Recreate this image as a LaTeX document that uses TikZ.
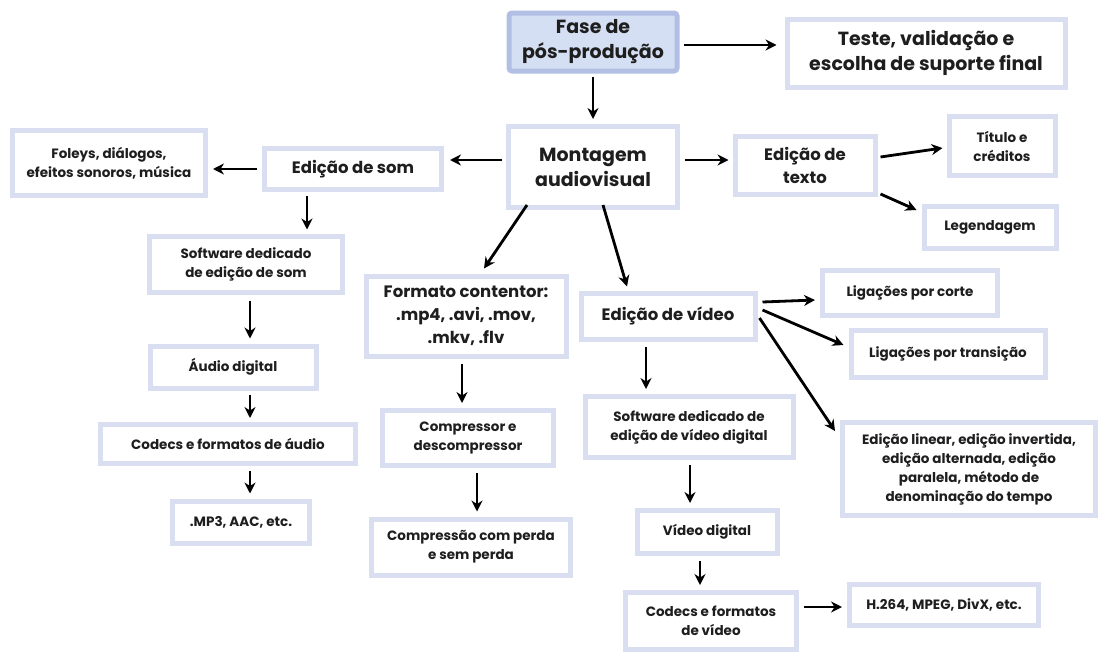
\documentclass[tikz,border=0pt]{standalone}
\usepackage{fontspec}
\setmainfont{Poppins}
\usetikzlibrary{arrows.meta,calc}
\definecolor{boxc}{RGB}{217,222,240}
\definecolor{topfill}{RGB}{213,223,243}
\definecolor{topline}{RGB}{178,190,228}
\definecolor{txt}{RGB}{30,30,30}
\tikzset{
  box/.style={draw=boxc, line width=5pt, fill=white, align=center, text=txt, inner sep=0pt,
    font=\bfseries\fontsize{13.5}{19}\selectfont},
  bigtext/.style={font=\bfseries\fontsize{16.5}{23}\selectfont},
  hugetext/.style={font=\bfseries\fontsize{19}{25}\selectfont},
  arr/.style={line width=2.8pt, draw=black, -{Stealth[length=11pt,width=11pt]}},
}
\begin{document}
\begin{tikzpicture}[x=1pt,y=-1pt]
\useasboundingbox (0,0) rectangle (1098,653);
% nodes
\node[box, hugetext, fill=topfill, draw=topline, rounded corners=3pt, minimum width=168, minimum height=58] (fase) at (593,42) {Fase de\\pós-produção};
\node[box, hugetext, minimum width=278, minimum height=68] (teste) at (926,53) {Teste, validação e\\escolha de suporte final};
\node[box, hugetext, minimum width=169, minimum height=81] (mont) at (593,167) {Montagem\\audiovisual};
\node[box, bigtext, minimum width=177, minimum height=41] (som) at (353,169) {Edição de som};
\node[box, minimum width=193, minimum height=65] (foleys) at (109,163) {Foleys, diálogos,\\efeitos sonoros, música};
\node[box, bigtext, minimum width=140, minimum height=58] (texto) at (805,165) {Edição de\\texto};
\node[box, minimum width=106, minimum height=59] (titulo) at (1002,146) {Título e\\créditos};
\node[box, minimum width=132, minimum height=42] (legend) at (990,227) {Legendagem};
\node[box, minimum width=193, minimum height=56] (swsom) at (246,264) {Software dedicado\\de edição de som};
\node[box, bigtext, minimum width=200, minimum height=80] (formato) at (466,316) {Formato contentor:\\.mp4, .avi, .mov,\\.mkv, .flv};
\node[box, bigtext, minimum width=174, minimum height=46] (video) at (668,316) {Edição de vídeo};
\node[box, minimum width=175, minimum height=45] (corte) at (910,293) {Ligações por corte};
\node[box, minimum width=194, minimum height=47] (trans) at (948,354) {Ligações por transição};
\node[box, minimum width=253, minimum height=93] (linear) at (969,469) {Edição linear, edição invertida,\\edição alternada, edição\\paralela, método de\\denominação do tempo};
\node[box, minimum width=166, minimum height=42] (audio) at (233,367) {Áudio digital};
\node[box, minimum width=255, minimum height=39] (codaud) at (228,444) {Codecs e formatos de áudio};
\node[box, minimum width=137, minimum height=42] (mp3) at (241,522) {.MP3, AAC, etc.};
\node[box, minimum width=171, minimum height=55] (compr) at (468,438) {Compressor e\\descompressor};
\node[box, minimum width=199, minimum height=56] (compsp) at (471,547) {Compressão com perda\\e sem perda};
\node[box, minimum width=208, minimum height=61] (swvid) at (689,427) {Software dedicado de\\edição de vídeo digital};
\node[box, minimum width=140, minimum height=43] (vdig) at (707,532) {Vídeo digital};
\node[box, minimum width=171, minimum height=57] (codvid) at (711,621) {Codecs e formatos\\de vídeo};
\node[box, minimum width=189, minimum height=41] (h264) at (944,605) {H.264, MPEG, DivX, etc.};
% connectors
\draw[arr] ($(fase.east)+(4,3)$) -- ($(teste.west)+(-8,-8)$);
\draw[arr] ($(fase.south)+(0,3)$) -- ($(mont.north)+(0,-5)$);
\draw[arr] ($(mont.west)+(-4,-7)$) -- ($(som.east)+(6,-9)$);
\draw[arr] ($(som.west)+(-5,0)$) -- ($(foleys.east)+(5,6)$);
\draw[arr] ($(mont.east)+(5,-7)$) -- ($(texto.west)+(-4,-5)$);
\draw[arr] ($(texto.east)+(3,-8)$) -- ($(titulo.west)+(-4,2)$);
\draw[arr] ($(texto.east)+(3,29)$) -- ($(legend.west)+(-5,-17)$);
\draw[arr] ($(mont.south)+(-66,-5)$) -- ($(formato.north)+(18,-5)$);
\draw[arr] ($(mont.south)+(10,-5)$) -- ($(video.north)+(-41,-4)$);
\draw[arr] ($(som.south)+(-46,4)$) -- ($(swsom.north)+(61,-4)$);
\draw[arr] ($(swsom.south)+(4,6)$) -- ($(audio.north)+(17,-5)$);
\draw[arr] ($(audio.south)+(17,4)$) -- ($(codaud.north)+(22,-4)$);
\draw[arr] ($(codaud.south)+(22,5)$) -- ($(mp3.north)+(9,-5)$);
\draw[arr] ($(formato.south)+(-4,5)$) -- ($(compr.north)+(-6,-5)$);
\draw[arr] ($(compr.south)+(9,5)$) -- ($(compsp.north)+(6,-5)$);
\draw[arr] ($(video.east)+(5,-14)$) -- ($(corte.west)+(-5,7)$);
\draw[arr] ($(video.east)+(5,-6)$) -- ($(trans.west)+(-5,-9)$);
\draw[arr] ($(video.east)+(2,2)$) -- ($(linear.west)+(-5,-38)$);
\draw[arr] ($(video.south)+(-22,5)$) -- ($(swvid.north)+(-43,-5)$);
\draw[arr] ($(swvid.south)+(1,5)$) -- ($(vdig.north)+(-17,-5)$);
\draw[arr] ($(vdig.south)+(-7,5)$) -- ($(codvid.north)+(-11,-5)$);
\draw[arr] ($(codvid.east)+(5,-14)$) -- ($(h264.west)+(-5,2)$);
\end{tikzpicture}
\end{document}
